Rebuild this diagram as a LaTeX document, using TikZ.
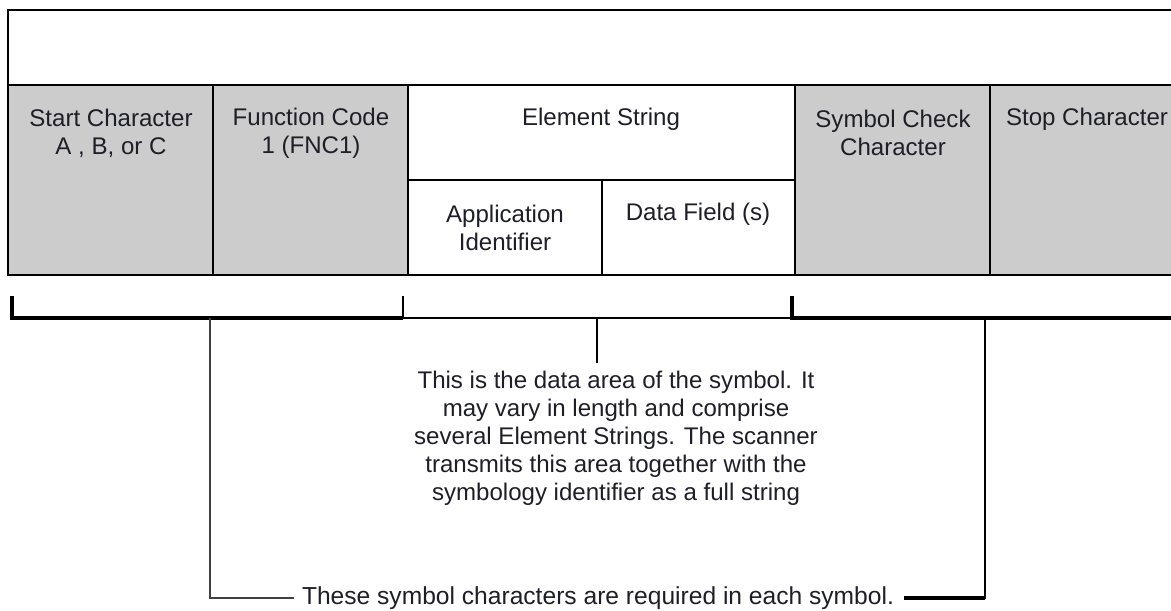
\documentclass[tikz,border=0pt]{standalone}
\usepackage{fontspec}
\setmainfont{Liberation Sans}
\usetikzlibrary{positioning, calc}
\definecolor{cellgray}{RGB}{204,204,204}
\definecolor{inkdark}{RGB}{30,30,40}
\tikzstyle{cell} = [draw=black, line width=1pt]
\tikzstyle{label} = [align=center, inner sep=0pt, text=inkdark, font=\fontsize{13.7}{15.9}\selectfont]
\tikzstyle{thickbrace} = [line width=2.6pt]
\tikzstyle{thinbrace} = [line width=1.1pt]
\tikzstyle{lead} = [line width=1.1pt]

\begin{document}
\begin{tikzpicture}[x=0.02cm, y=-0.02cm]
    \useasboundingbox (0,0) rectangle (1171,611);
    % top frame
    \draw[cell] (8,10) rectangle (1200,85);
    % fields of the symbol
    \filldraw[cell, fill=cellgray] (8,85) rectangle (213,275);
    \filldraw[cell, fill=cellgray] (213,85) rectangle (408,275);
    \draw[cell] (408,85) rectangle (795,180);
    \draw[cell] (408,180) rectangle (602,275);
    \draw[cell] (602,180) rectangle (795,275);
    \filldraw[cell, fill=cellgray] (795,85) rectangle (990,275);
    \filldraw[cell, fill=cellgray] (990,85) rectangle (1200,275);

    \node[label] (start) at (111,133) {Start Character\\A , B, or C};
    \node[label] (fnc) at (311,133) {Function Code\\1 (FNC1)};
    \node[label] (elem) at (601,119) {Element String};
    \node[label] (appid) at (505,228) {Application\\Identifier};
    \node[label] (field) at (698,214) {Data Field (s)};
    \node[label] (check) at (893,133) {Symbol Check\\Character};
    \node[label] (stop) at (1087,119) {Stop Character};

    % brackets under the fields
    \coordinate (b0) at (12,318);
    \coordinate (b1) at (403,318);
    \coordinate (b2) at (792,318);
    \coordinate (b3) at (1200,318);
    \draw[thickbrace] (12,296) -- (b0) -- (b1);
    \draw[thinbrace] (403,296) -- (b1) -- (b2);
    \draw[thickbrace] (792,296) -- (b2) -- (b3);

    % notes
    \node[label] (data) at (616,438)
        {This is the data area of the symbol. It\\may vary in length and comprise\\several Element Strings. The scanner\\transmits this area together with the\\symbology identifier as a full string};
    \node[label, font=\fontsize{14}{16}\selectfont] (req) at (598,598) {These symbol characters are required in each symbol.};

    \coordinate (dtop) at (597,318);
    \coordinate (lbend) at (210,598);
    \coordinate (rbend) at (985,598);
    \draw[thinbrace] (dtop) -- ++(0,45);
    \draw[lead, draw=black!75] (req.west) ++(-8,0) -- (lbend) -- (210,318);
    \draw[line width=1.6pt] (req.east) ++(10,0) -- (rbend) -- (985,318);
    \draw[line width=2.6pt] (req.east) ++(10,0) -- (rbend);
\end{tikzpicture}
\end{document}
